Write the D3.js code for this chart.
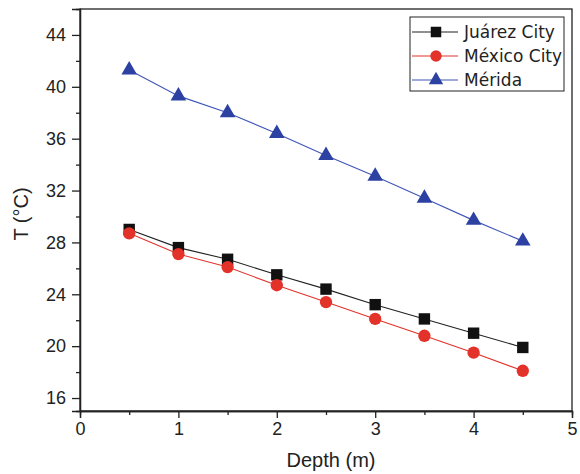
<!DOCTYPE html>
<html><head><meta charset="utf-8">
<script src="https://cdn.jsdelivr.net/npm/d3@7"></script>
<style>body{margin:0;background:#fff}svg{display:block}</style>
</head><body>
<svg id="c" width="580" height="474"></svg>
<script>
const depth = [0.5,1.0,1.5,2.0,2.5,3.0,3.5,4.0,4.5];
const juarez = [29.0,27.6,26.7,25.5,24.4,23.2,22.1,21.0,19.9];
const mexico = [28.7,27.1,26.1,24.7,23.4,22.1,20.8,19.5,18.1];
const merida = [41.3,39.3,38.0,36.4,34.7,33.1,31.4,29.7,28.1];
const seriesNames = ["Juárez City","México City","Mérida"];
const xTicks = [0,1,2,3,4,5];
const yTicks = [16,20,24,28,32,36,40,44];

const svg = d3.select("#c");
const L=80,R=572,T=9,B=411;
const x = d3.scaleLinear().domain([0,5]).range([L,R]);
const y = d3.scaleLinear().domain([15,46]).range([B,T]);

const series = [
  {name:seriesNames[0], vals:juarez, color:"#111111", line:"#222222", sym:d3.symbolSquare, size:130},
  {name:seriesNames[1], vals:mexico, color:"#e2322a", line:"#e2322a", sym:d3.symbolCircle, size:120},
  {name:seriesNames[2], vals:merida, color:"#2c41a2", line:"#3f55b8", sym:d3.symbolTriangle, size:105}
];

svg.append("rect").attr("x",L).attr("y",T).attr("width",R-L).attr("height",B-T)
  .attr("fill","none").attr("stroke","#222").attr("stroke-width",1.3);

const font = "'Liberation Sans', Arial, sans-serif";
const xa = svg.append("g").attr("transform",`translate(0,${B})`)
  .call(d3.axisBottom(x).tickValues(xTicks).tickFormat(d3.format("d")).tickSize(7).tickPadding(4));
const xm = svg.append("g").attr("transform",`translate(0,${B})`)
  .call(d3.axisBottom(x).tickValues([0.5,1.5,2.5,3.5,4.5]).tickFormat("").tickSize(4));
const ya = svg.append("g").attr("transform",`translate(${L},0)`)
  .call(d3.axisLeft(y).tickValues(yTicks).tickFormat(d3.format("d")).tickSize(8).tickPadding(6));
const ym = svg.append("g").attr("transform",`translate(${L},0)`)
  .call(d3.axisLeft(y).tickValues([18,22,26,30,34,38,42]).tickFormat("").tickSize(4));
[xa,xm,ya,ym].forEach(g=>{
  g.attr("font-size",null).attr("font-family",null);
  g.select(".domain").attr("stroke","#222").attr("stroke-width",1.3);
  g.selectAll(".tick line").attr("stroke","#222").attr("stroke-width",1.3);
  g.selectAll("text").style("font-family",font).style("font-size","18px").attr("fill","#222");
});

svg.append("text").attr("x",331).attr("y",467).attr("text-anchor","middle")
  .style("font-family",font).style("font-size","20px").attr("fill","#222").text("Depth (m)");
svg.append("text").attr("transform",`translate(28,${214}) rotate(-90)`).attr("text-anchor","middle")
  .style("font-family",font).style("font-size","20px").attr("fill","#222").text("T (°C)");

const line = d3.line().x((d,i)=>x(depth[i])).y(d=>y(d));
series.forEach(s=>{
  svg.append("path").datum(s.vals).attr("d",line).attr("fill","none")
    .attr("stroke",s.line).attr("stroke-width",1.1);
  svg.selectAll(null).data(s.vals).enter().append("path")
    .attr("d",d3.symbol().type(s.sym).size(s.size))
    .attr("transform",(d,i)=>`translate(${x(depth[i])},${y(d)})`)
    .attr("fill",s.color);
});

const lg = svg.append("g");
lg.append("rect").attr("x",410).attr("y",17).attr("width",154).attr("height",74)
  .attr("fill","#fff").attr("stroke","#222").attr("stroke-width",1);
series.forEach((s,i)=>{
  const yy = 32 + i*24;
  lg.append("line").attr("x1",412).attr("x2",458).attr("y1",yy).attr("y2",yy)
    .attr("stroke",s.line).attr("stroke-width",1.1);
  lg.append("path").attr("d",d3.symbol().type(s.sym).size(s.size*0.85)())
    .attr("transform",`translate(436,${yy})`).attr("fill",s.color);
  lg.append("text").attr("x",464).attr("y",yy+6).style("font-family","'DejaVu Sans', Verdana, sans-serif")
    .style("font-size","17px").attr("fill","#222").text(s.name);
});
</script>
</body></html>
